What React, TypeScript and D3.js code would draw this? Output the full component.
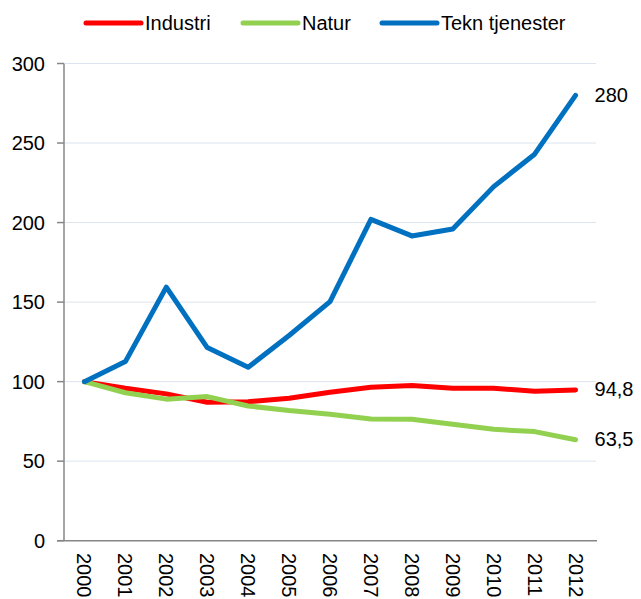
import { useEffect, useRef } from 'react'
import { select, scalePoint, scaleLinear, line } from 'd3'

// index values, 2000 = 100
const years = ['2000', '2001', '2002', '2003', '2004', '2005', '2006', '2007', '2008', '2009', '2010', '2011', '2012']
const industri = [100, 95.8, 92.3, 87, 87.4, 89.5, 93.3, 96.5, 97.5, 95.8, 95.8, 94, 94.8]
const natur = [100, 93, 89, 90.6, 84.7, 81.8, 79.5, 76.5, 76.3, 73.2, 70, 68.6, 63.5]
const tekn = [100, 112.6, 159.4, 121.4, 109, 129, 150.3, 202, 191.6, 196, 222.6, 243, 280]
const seriesNames = ['Industri', 'Natur', 'Tekn tjenester']
const yTicks = [0, 50, 100, 150, 200, 250, 300]

const WIDTH = 641
const HEIGHT = 599
const FONT = 'Liberation Sans, Arial, sans-serif'

export default function App() {
  const ref = useRef<SVGSVGElement>(null)

  useEffect(() => {
    const svg = select(ref.current)
    svg.selectAll('*').remove()

    const series = [
      { name: seriesNames[0], values: industri, color: '#ff0000' },
      { name: seriesNames[1], values: natur, color: '#92d050' },
      { name: seriesNames[2], values: tekn, color: '#0070c0' },
    ]

    // excel style category axis - points sit in the middle of each band
    const x = scalePoint<string>().domain(years).range([64, 596]).padding(0.5)
    const y = scaleLinear().domain([0, 300]).range([540.7, 63.5])

    // gridlines
    svg.append('g')
      .selectAll('line')
      .data(yTicks.slice(1))
      .join('line')
      .attr('x1', 65).attr('x2', 596)
      .attr('y1', d => y(d)).attr('y2', d => y(d))
      .attr('stroke', '#dce4ef')
      .attr('stroke-width', 1)

    // y axis
    const yAxis = svg.append('g')
    yAxis.append('line')
      .attr('x1', 64).attr('x2', 64)
      .attr('y1', y(300)).attr('y2', y(0))
      .attr('stroke', '#868686').attr('stroke-width', 1.5)
    yAxis.selectAll('line.tick')
      .data(yTicks)
      .join('line')
      .attr('class', 'tick')
      .attr('x1', 57).attr('x2', 64)
      .attr('y1', d => y(d)).attr('y2', d => y(d))
      .attr('stroke', '#868686').attr('stroke-width', 1.5)
    yAxis.selectAll('text')
      .data(yTicks)
      .join('text')
      .attr('x', 45)
      .attr('y', d => y(d))
      .attr('dy', '0.35em')
      .attr('text-anchor', 'end')
      .style('font', `20px ${FONT}`)
      .attr('fill', '#000')
      .text(d => d)

    // x axis
    const xAxis = svg.append('g')
    xAxis.append('line')
      .attr('x1', 57).attr('x2', 597)
      .attr('y1', y(0)).attr('y2', y(0))
      .attr('stroke', '#868686').attr('stroke-width', 1.5)
    xAxis.selectAll('text')
      .data(years)
      .join('text')
      .attr('transform', d => `translate(${x(d)},553) rotate(90)`)
      .attr('dy', '0.35em')
      .attr('text-anchor', 'start')
      .style('font', `20px ${FONT}`)
      .attr('fill', '#000')
      .text(d => d)

    // lines
    const lineGen = line<number>()
      .x((d, i) => x(years[i]) as number)
      .y(d => y(d))

    svg.append('g')
      .selectAll('path')
      .data(series)
      .join('path')
      .attr('d', d => lineGen(d.values))
      .attr('fill', 'none')
      .attr('stroke', d => d.color)
      .attr('stroke-width', 5)
      .attr('stroke-linejoin', 'round')
      .attr('stroke-linecap', 'round')

    // end labels with norwegian decimal comma
    const fmt = (v: number) => (v % 1 === 0 ? String(v) : v.toFixed(1).replace('.', ','))
    svg.append('g')
      .selectAll('text')
      .data(series)
      .join('text')
      .attr('x', x(years[years.length - 1])! + 19)
      .attr('y', d => y(d.values[d.values.length - 1]))
      .attr('dy', '0.32em')
      .style('font', `20px ${FONT}`)
      .attr('fill', '#000')
      .text(d => fmt(d.values[d.values.length - 1]))

    // legend
    const legendX = [86, 243, 382]
    const legend = svg.append('g')
      .selectAll('g')
      .data(series)
      .join('g')
      .attr('transform', (d, i) => `translate(${legendX[i]},23)`)
    legend.append('line')
      .attr('x1', 0).attr('x2', 55)
      .attr('stroke', d => d.color)
      .attr('stroke-width', 5)
      .attr('stroke-linecap', 'round')
    legend.append('text')
      .attr('x', 59)
      .attr('dy', '0.35em')
      .style('font', `20px ${FONT}`)
      .attr('fill', '#000')
      .text(d => d.name)
  }, [])

  return (
    <svg
      ref={ref}
      width={WIDTH}
      height={HEIGHT}
      style={{ position: 'absolute', left: 0, top: 0, background: '#fff' }}
    />
  )
}
